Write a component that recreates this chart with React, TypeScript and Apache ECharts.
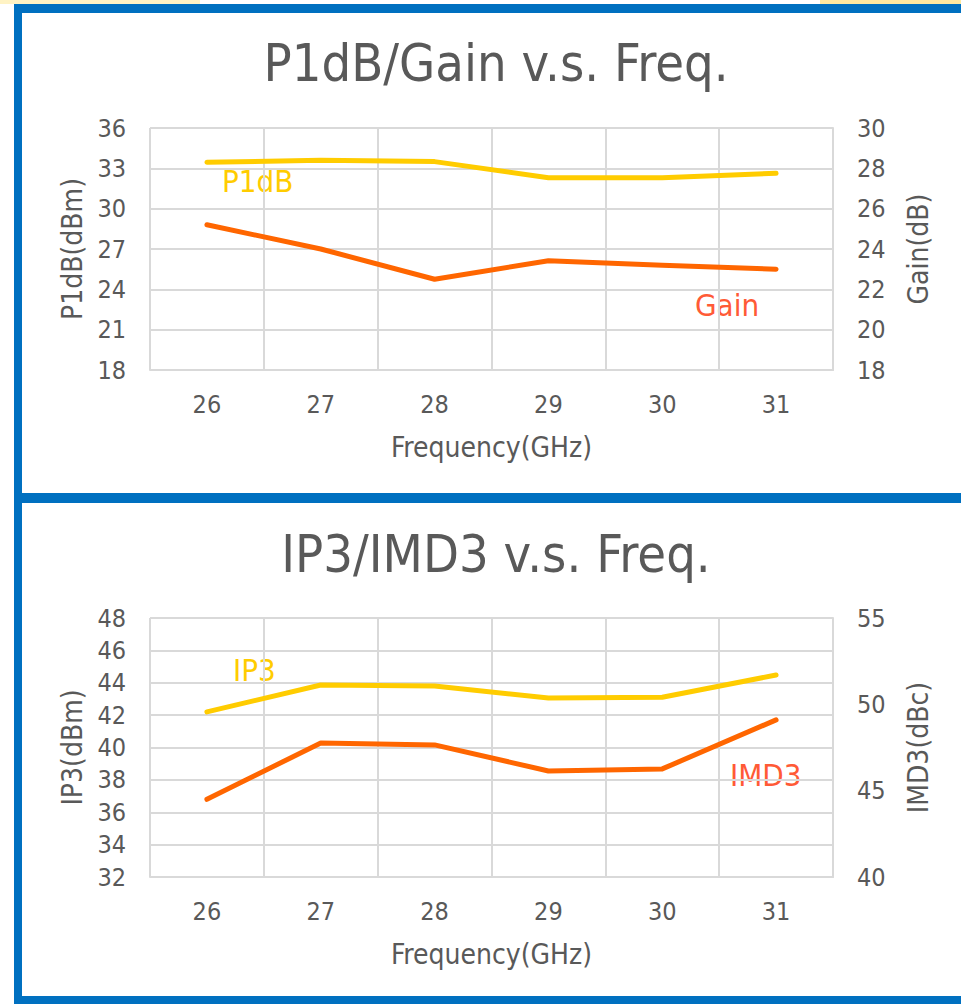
import React, { useEffect, useRef } from "react";
import * as echarts from "echarts";

const freqs = ["26", "27", "28", "29", "30", "31"];
const p1dB = [33.45, 33.6, 33.5, 32.3, 32.3, 32.63];
const gain = [25.2, 24.0, 22.5, 23.42, 23.2, 23.0];
const ip3 = [42.2, 43.86, 43.8, 43.06, 43.1, 44.48];
const imd3 = [44.5, 47.76, 47.65, 46.14, 46.26, 49.1];

const FONT = "DejaVu Sans Condensed";
const TXT = "#595959";
const GRIDC = "#D9D9D9";
const YEL = "#FFCC00";
const ORG = "#FF6600";
const LBL = "#FF5A36";

export default function App() {
  const ref = useRef<HTMLDivElement>(null);
  useEffect(() => {
    if (!ref.current) return;
    const chart = echarts.init(ref.current, undefined, { renderer: "svg" });
    const axisLabel = { color: TXT, fontFamily: FONT, fontSize: 25 };
    const nameStyle = { color: TXT, fontFamily: FONT, fontSize: 28 };
    const split = { show: true, lineStyle: { color: GRIDC, width: 2 } };
    const catAxis = (gi: number) => ({
      type: "category",
      gridIndex: gi,
      data: freqs,
      boundaryGap: true,
      axisLine: { show: true, lineStyle: { color: GRIDC, width: 2 } },
      axisTick: { show: false },
      splitLine: split,
      axisLabel: { ...axisLabel, margin: 22 },
      name: "Frequency(GHz)",
      nameLocation: "middle",
      nameGap: 63,
      nameTextStyle: nameStyle,
    });
    const titleStyle = { color: TXT, fontFamily: FONT, fontSize: 52, fontWeight: "normal" };
    chart.setOption({
      animation: false,
      backgroundColor: "#ffffff",
      title: [
        { text: "P1dB/Gain v.s. Freq.", left: 491, top: 32, textAlign: "center", textStyle: titleStyle },
        { text: "IP3/IMD3 v.s. Freq.", left: 491, top: 523, textAlign: "center", textStyle: titleStyle },
      ],
      grid: [
        { left: 150, top: 128, width: 683, height: 242 },
        { left: 150, top: 618, width: 683, height: 259 },
      ],
      xAxis: [catAxis(0), catAxis(1)],
      yAxis: [
        {
          type: "value", gridIndex: 0, position: "left", min: 18, max: 36, interval: 3,
          axisLine: { show: false }, axisTick: { show: false }, splitLine: split,
          axisLabel: { ...axisLabel, margin: 24 },
          name: "P1dB(dBm)", nameLocation: "middle", nameRotate: 90, nameGap: 56, nameTextStyle: nameStyle,
        },
        {
          type: "value", gridIndex: 0, position: "right", min: 18, max: 30, interval: 2,
          axisLine: { show: true, lineStyle: { color: GRIDC, width: 2 } }, axisTick: { show: false }, splitLine: { show: false },
          axisLabel: { ...axisLabel, margin: 24 },
          name: "Gain(dB)", nameLocation: "middle", nameRotate: 90, nameGap: 71, nameTextStyle: nameStyle,
        },
        {
          type: "value", gridIndex: 1, position: "left", min: 32, max: 48, interval: 2,
          axisLine: { show: false }, axisTick: { show: false }, splitLine: split,
          axisLabel: { ...axisLabel, margin: 24 },
          name: "IP3(dBm)", nameLocation: "middle", nameRotate: 90, nameGap: 56, nameTextStyle: nameStyle,
        },
        {
          type: "value", gridIndex: 1, position: "right", min: 40, max: 55, interval: 5,
          axisLine: { show: true, lineStyle: { color: GRIDC, width: 2 } }, axisTick: { show: false }, splitLine: { show: false },
          axisLabel: { ...axisLabel, margin: 24 },
          name: "IMD3(dBc)", nameLocation: "middle", nameRotate: 90, nameGap: 71, nameTextStyle: nameStyle,
        },
      ],
      series: [
        { name: "P1dB", type: "line", xAxisIndex: 0, yAxisIndex: 0, data: p1dB, symbol: "none", lineStyle: { color: YEL, width: 5, cap: "round", join: "round" } },
        { name: "Gain", type: "line", xAxisIndex: 0, yAxisIndex: 1, data: gain, symbol: "none", lineStyle: { color: ORG, width: 5, cap: "round", join: "round" } },
        { name: "IP3", type: "line", xAxisIndex: 1, yAxisIndex: 2, data: ip3, symbol: "none", lineStyle: { color: YEL, width: 5, cap: "round", join: "round" } },
        { name: "IMD3", type: "line", xAxisIndex: 1, yAxisIndex: 3, data: imd3, symbol: "none", lineStyle: { color: ORG, width: 5, cap: "round", join: "round" } },
      ],
      graphic: [
        { type: "rect", shape: { x: 0, y: 0, width: 200, height: 4 }, style: { fill: "#FFF3C4" }, silent: true },
        { type: "rect", shape: { x: 820, y: 0, width: 141, height: 4 }, style: { fill: "#FFE9A0" }, silent: true },
        { type: "rect", shape: { x: 14, y: 4, width: 947, height: 9, r: [4, 0, 0, 0] }, style: { fill: "#0070C0" }, silent: true },
        { type: "rect", shape: { x: 14, y: 4, width: 8, height: 1000 }, style: { fill: "#0070C0" }, silent: true },
        { type: "rect", shape: { x: 14, y: 493, width: 947, height: 10 }, style: { fill: "#0070C0" }, silent: true },
        { type: "rect", shape: { x: 14, y: 996, width: 947, height: 8 }, style: { fill: "#0070C0" }, silent: true },
        { type: "text", x: 222, y: 181, style: { text: "P1dB", fill: YEL, font: `31px "${FONT}"`, textVerticalAlign: "middle" }, silent: true },
        { type: "text", x: 695, y: 305, style: { text: "Gain", fill: LBL, font: `31px "${FONT}"`, textVerticalAlign: "middle" }, silent: true },
        { type: "text", x: 233, y: 670, style: { text: "IP3", fill: YEL, font: `31px "${FONT}"`, textVerticalAlign: "middle" }, silent: true },
        { type: "text", x: 730, y: 775, style: { text: "IMD3", fill: LBL, font: `31px "${FONT}"`, textVerticalAlign: "middle" }, silent: true },
      ],
    });
    return () => chart.dispose();
  }, []);
  return (
    <div style={{ position: "absolute", left: 0, top: 0, width: 961, height: 1004, background: "#fff" }}>
      <div ref={ref} style={{ width: 961, height: 1004 }} />
    </div>
  );
}
